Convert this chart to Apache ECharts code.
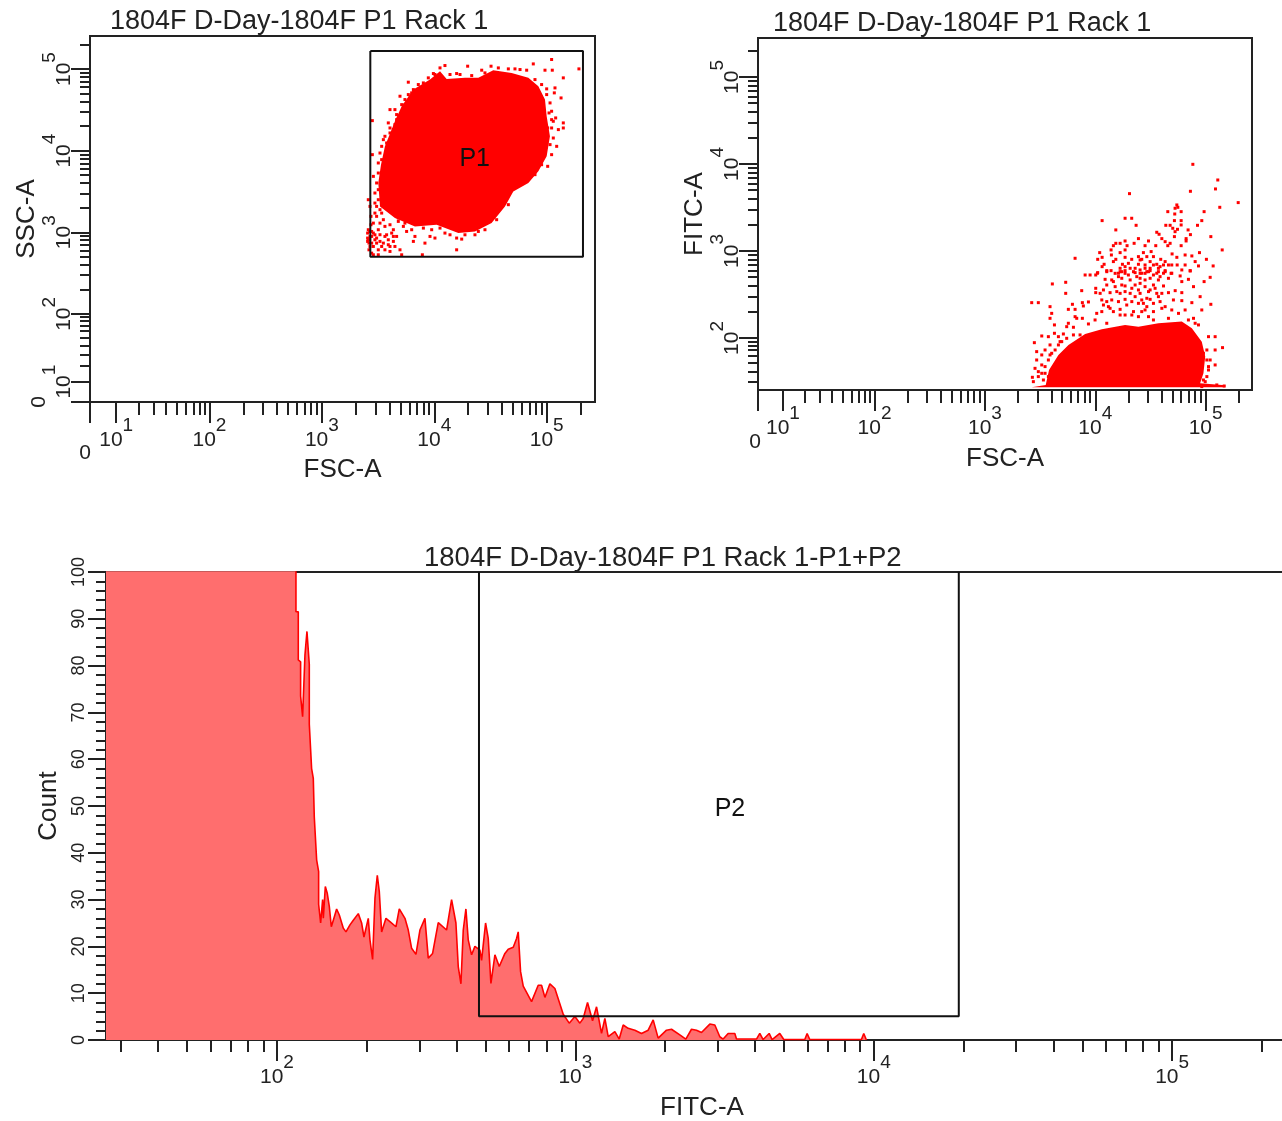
<!DOCTYPE html>
<html><head><meta charset="utf-8">
<style>html,body{margin:0;padding:0;background:#fff}#c{width:1282px;height:1121px}</style>
<script src="https://cdn.jsdelivr.net/npm/echarts@6/dist/echarts.min.js"></script>
</head><body><div id="c"></div>
<script>
const titleTop = "1804F D-Day-1804F P1 Rack 1";
const titleHist = "1804F D-Day-1804F P1 Rack 1-P1+P2";

// Display scale of the two dot plots: log above 100, compressed below (values -> axis units)
const lowValues = [0, 10, 20, 30, 40, 50, 60, 70, 80, 90, 100];
const lowUnits = [0.93, 1.17, 1.37, 1.5, 1.61, 1.71, 1.79, 1.86, 1.91, 1.96, 2];

// P1 dot plot (axis units = log10 display). Solid population outline and stray events
const p1OutlineFsc = [3.962,4.051,4.110,4.273,4.392,4.525,4.688,4.837,4.926,4.985,5.000,5.029,5.000,4.926,4.837,4.703,4.629,4.510,4.362,4.214,4.021,3.828,3.650,3.517,3.502,3.526,3.561,3.650,3.710,3.814];
const p1OutlineSsc = [4.871,4.974,4.879,4.892,4.892,4.986,4.953,4.892,4.789,4.626,4.421,4.176,3.931,3.747,3.603,3.501,3.317,3.113,3.010,2.990,3.092,3.072,3.174,3.317,3.603,3.828,4.053,4.360,4.544,4.748];
const p1Stray = [[4.095,5.043],[4.297,5.035],[4.505,5.035],[4.881,5.063],[5.044,5.117],[5.287,5.002],[4.985,4.986],[5.050,4.986],[5.148,4.892],[4.659,5.002],[4.763,4.994],[4.199,4.945],[4.422,4.986],[3.769,4.839],[3.992,4.945],[5.074,4.769],[5.128,4.646],[5.000,4.757],[5.068,4.708],[4.941,4.544],[5.044,4.483],[5.080,4.401],[5.148,4.340],[5.148,4.278],[5.104,4.258],[5.059,4.360],[4.911,4.393],[5.044,4.278],[5.089,4.053],[5.044,3.951],[5.009,3.808],[4.941,4.196],[3.449,4.368],[3.695,4.667],[3.739,4.626],[3.784,4.646],[3.606,4.503],[3.650,4.503],[3.710,4.564],[3.591,4.340],[3.680,4.401],[3.754,4.462],[3.636,4.258],[3.606,4.217],[3.547,4.135],[3.576,4.094],[3.695,4.115],[3.695,3.992],[3.636,4.012],[3.561,3.930],[3.449,3.951],[3.502,3.849],[3.547,3.767],[3.458,3.685],[3.591,3.706],[3.502,3.522],[3.591,3.563],[3.532,3.440],[3.413,3.399],[3.472,3.358],[3.413,3.031],[3.428,2.949],[3.419,2.867],[3.458,2.990],[3.472,2.908],[3.458,2.826],[3.502,2.785],[3.443,2.744],[3.547,2.867],[3.591,2.908],[3.636,2.888],[3.665,2.949],[3.561,2.785],[3.606,2.765],[3.695,2.785],[3.517,2.970],[3.561,3.072],[3.487,3.195],[3.517,3.277],[3.547,3.154],[3.606,3.092],[3.680,3.133],[3.725,3.072],[3.754,3.010],[3.828,2.949],[3.917,2.867],[3.814,2.888],[3.710,2.724],[3.894,2.724],[4.199,2.785],[3.962,2.949],[4.006,2.929],[4.095,2.990],[4.199,2.929],[4.244,2.916],[4.392,3.010],[3.458,2.724],[3.502,2.724],[3.428,3.317],[3.437,3.195],[3.437,3.092],
[3.561,4.176],[3.532,4.053],[3.517,3.971],[3.532,3.890],[3.502,3.726],[3.487,3.604],[3.472,3.481],[3.502,3.399],[3.487,3.317],[3.532,3.235],[3.472,3.235],[3.517,3.112],[3.458,3.112],[3.443,3.010],[3.502,3.031],[3.561,2.949],[3.532,2.826],[3.621,2.990],[3.636,3.031],[3.650,2.826],[3.487,2.867],[3.428,2.826],[3.419,2.785],[3.413,2.908],[3.606,4.278],[3.650,4.319],[3.665,4.380],[3.710,4.462],[3.665,4.442],[3.769,4.687],[3.739,4.564],[3.814,4.748],[3.799,4.708],[3.858,4.810],[3.903,4.830],[3.947,4.892],[4.006,4.933],[4.051,5.014],[4.140,4.933],[4.229,4.933],[4.333,4.920],[4.451,4.953],[4.570,5.014],[4.718,5.002],[4.822,4.986],[4.896,4.871],[4.955,4.810],[5.000,4.687],[5.030,4.585],[5.021,4.462],[5.044,4.380],[5.009,4.278],[5.059,4.155],[5.030,4.074],[4.955,3.828],[4.896,3.706],[3.739,3.112],[3.680,3.174],[3.799,3.031],[3.903,3.051],[3.977,3.031],[4.051,3.051],[4.140,2.969],[4.273,2.969],[4.362,2.969],[4.451,3.031],[4.555,3.154],[4.659,3.338],
[3.407,2.990],[3.407,2.929],[3.407,2.888],[3.425,3.010],[3.425,2.908],[3.443,2.949],[3.443,2.867],[3.472,2.969],[3.487,2.929],[3.517,2.888],[3.591,2.847],[3.636,2.949],[3.576,2.969],[3.606,2.826]];
const p1GateFsc = [3.431,5.323,5.323,3.431,3.431];
const p1GateSsc = [5.221,5.221,2.699,2.699,5.221];

// FITC dot plot
const fitcDomeFsc = [3.424,3.551,3.581,3.666,3.757,3.908,4.059,4.270,4.391,4.572,4.784,4.875,4.965,4.996,4.980,4.950,5.177,5.177];
const fitcDomeFitc = [1.433,1.460,1.632,1.805,1.920,2.046,2.100,2.150,2.130,2.169,2.188,2.111,1.958,1.786,1.594,1.479,1.456,1.433];
const fitcStray = [[4.884,3.996],[5.110,3.816],[4.862,3.686],[5.089,3.713],[4.310,3.659],[5.295,3.556],[5.128,3.502],[4.739,3.529],[4.723,3.491],[4.748,3.502],[4.657,3.452],[4.778,3.452],[4.986,3.452],[4.720,3.425],[4.062,3.349],[4.270,3.376],[4.330,3.376],[4.370,3.295],[4.717,3.349],[4.778,3.349],[4.778,3.299],[4.965,3.349],[4.926,3.295],[4.639,3.295],[4.678,3.295],[4.186,3.242],[4.702,3.261],[4.745,3.249],[4.723,3.222],[4.841,3.242],[4.557,3.215],[4.578,3.192],[4.862,3.188],[4.717,3.165],[5.047,3.165],[4.391,3.142],[4.603,3.142],[4.823,3.142],[4.823,3.115],[4.482,3.115],[4.270,3.115],[4.186,3.088],[4.225,3.088],[4.352,3.088],[4.633,3.107],[4.678,3.088],[4.778,3.061],[4.657,3.061],[4.164,3.061],[4.288,3.061],[4.451,3.061],[4.548,3.061],[4.143,3.012],[4.270,3.012],[5.150,3.012],[4.040,2.981],[4.225,2.981],[4.436,2.981],[4.506,2.993],[4.696,2.966],[4.944,2.981],[3.817,2.916],[4.062,2.927],[4.146,2.954],[4.022,2.904],[4.186,2.904],[4.270,2.927],[4.330,2.904],[4.391,2.935],[4.467,2.935],[4.527,2.935],[4.593,2.904],[4.739,2.927],[4.814,2.954],[4.875,2.943],[5.007,2.904],[4.164,2.878],[4.421,2.904],[4.497,2.878],[4.633,2.878],[4.905,2.878],[4.080,2.847],[4.246,2.847],[4.391,2.847],[4.557,2.847],[4.693,2.839],[4.742,2.839],[4.814,2.839],[4.935,2.828],[5.068,2.828],[4.062,2.820],[4.225,2.801],[4.316,2.801],[4.451,2.801],[4.587,2.820],[4.784,2.782],[4.104,2.774],[4.143,2.774],[4.270,2.774],[4.361,2.751],[4.497,2.774],[4.633,2.774],[4.860,2.774],[4.019,2.744],[3.908,2.724],[3.953,2.724],[4.210,2.744],[4.421,2.744],[4.557,2.744],[4.693,2.744],
[4.004,2.724],[4.022,2.751],[4.104,2.762],[4.180,2.743],[4.225,2.762],[4.270,2.743],[4.346,2.762],[4.406,2.743],[4.482,2.762],[4.633,2.762],[4.687,2.743],[4.769,2.713],[4.860,2.770],[4.844,2.674],[5.041,2.697],[4.986,2.648],[3.611,2.621],[3.732,2.640],[4.089,2.674],[4.164,2.648],[4.240,2.686],[4.316,2.667],[4.406,2.686],[4.497,2.686],[4.572,2.667],[4.663,2.686],[4.784,2.648],[4.890,2.590],[3.732,2.513],[3.877,2.544],[4.004,2.571],[4.004,2.521],[4.104,2.609],[4.180,2.590],[4.270,2.598],[4.361,2.609],[4.451,2.590],[4.527,2.609],[4.618,2.598],[4.724,2.544],[4.784,2.521],[4.950,2.475],[3.424,2.406],[3.484,2.406],[3.590,2.360],[3.883,2.406],[3.938,2.414],[4.044,2.513],[4.134,2.521],[4.225,2.513],[4.316,2.513],[4.406,2.513],[4.482,2.533],[4.557,2.513],[4.663,2.521],[3.892,2.368],[3.756,2.329],[3.817,2.329],[3.793,2.387],[4.059,2.437],[4.149,2.437],[4.270,2.444],[4.331,2.418],[4.421,2.437],[4.497,2.444],[4.587,2.418],[4.708,2.437],[4.784,2.429],[4.875,2.406],[5.047,2.387],[3.605,2.283],[3.590,2.226],[3.817,2.245],[3.832,2.226],[3.883,2.226],[4.013,2.283],[4.059,2.303],[4.134,2.341],[4.225,2.329],[4.346,2.303],[4.451,2.322],[4.603,2.341],[4.814,2.322],[4.965,2.322],[3.630,2.150],[3.756,2.169],[3.741,2.130],[3.802,2.123],[3.938,2.161],[3.998,2.207],[4.104,2.169],[4.225,2.264],[4.331,2.264],[4.482,2.245],[4.663,2.226],[4.754,2.283],[4.890,2.226],[3.630,2.054],[3.711,2.046],[3.666,2.015],[3.575,2.015],[3.515,2.023],[3.448,1.946],[3.590,1.920],[3.681,1.958],[4.935,2.150],[5.026,2.015],[5.086,2.015],[5.153,1.889],[3.469,1.843],[3.469,1.747],[3.515,1.805],[3.545,1.862],[3.590,1.805],[5.086,1.862],[5.011,1.862],[5.041,1.747],[5.086,1.690],[3.515,1.690],[3.454,1.651],[3.430,1.548],[3.484,1.613],[5.026,1.632],[5.011,1.556],[3.545,1.594],[3.439,1.498],[4.980,1.517],[5.101,1.460],[5.168,1.448],
[4.406,2.628],[4.451,2.667],[4.497,2.552],[4.542,2.571],[4.467,2.456],[4.527,2.398],[4.391,2.398],[4.285,2.379],[4.210,2.418],[4.104,2.418],[4.074,2.552],[4.195,2.533],[4.270,2.533],[4.361,2.475],[4.436,2.398],[4.467,2.360],[4.527,2.303],[4.572,2.475],[4.603,2.513],[4.391,2.552],[4.331,2.571],[4.240,2.609],[4.149,2.667],[4.210,2.705],[4.300,2.724],[4.376,2.705],[4.451,2.743],[4.527,2.724],[4.587,2.705],[4.421,2.303],[4.391,2.245],[4.527,2.207],[4.633,2.360],[4.693,2.322],[4.119,2.360],[4.164,2.303],[4.074,2.379],[4.270,2.264],
[4.406,2.897],[4.451,2.839],[4.527,2.839],[4.572,2.801],[4.618,2.839],[4.270,2.820],[4.300,2.858],[4.361,2.801],[4.497,2.801],[4.467,2.762],[4.406,2.782],[4.240,2.762],[4.572,2.762],[4.618,2.744],[4.663,2.839],
[3.530,1.517],[3.545,1.671],[3.575,1.747],[3.605,1.824],[3.636,1.862],[3.666,1.920],[3.696,1.958],[3.741,1.996],[3.802,2.035],[3.862,2.035],[3.484,1.556],[3.515,1.594],[3.575,1.556],[4.950,1.900],[4.980,1.824],[5.011,1.747],[5.026,1.671],[4.996,1.498],[4.965,1.441],[4.905,2.169],[4.844,2.207]];

// Histogram, log10(FITC-A) and Count (first points are off scale above 100)
const histLogFitc = [1.427,2.0636,2.0636,2.0714,2.0714,2.0792,2.0792,2.0859,2.0859,2.0938,2.1005,2.1083,2.1083,2.1161,2.1217,2.1250,2.1329,2.1396,2.1396,2.1463,2.1530,2.1553,2.1620,2.1687,2.1754,2.1821,2.1888,2.1999,2.2089,2.2223,2.2312,2.2446,2.2558,2.2725,2.2837,2.2915,2.3060,2.3116,2.3205,2.3284,2.3362,2.3429,2.3507,2.3652,2.3786,2.3987,2.4099,2.4289,2.4400,2.4512,2.4657,2.4791,2.4959,2.5070,2.5215,2.5405,2.5684,2.5852,2.5997,2.6075,2.6165,2.6243,2.6332,2.6410,2.6522,2.6634,2.6801,2.6857,2.6991,2.7080,2.7170,2.7304,2.7449,2.7639,2.7750,2.7918,2.8030,2.8085,2.8164,2.8253,2.8532,2.8755,2.8867,2.8979,2.9146,2.9314,2.9593,2.9794,2.9984,3.0151,3.0263,3.0408,3.0576,3.0710,3.0877,3.0989,3.1101,3.1156,3.1324,3.1469,3.1603,3.1770,3.1994,3.2217,3.2440,3.2608,3.2775,3.3054,3.3222,3.3501,3.3702,3.3892,3.4059,3.4227,3.4506,3.4674,3.4841,3.4953,3.5120,3.5344,3.5400,3.6070,3.6181,3.6293,3.6494,3.6594,3.6851,3.6985,3.7689,3.7767,3.7856,3.9587,3.9665,3.9754];
const histCount = [130,130,91.5,91.5,81.2,80.8,73.5,73.5,69.1,82.3,87.3,80.3,67.5,58,55.9,47.7,38.5,36,29,25,30,26,32.8,31.3,28.5,24.2,25.6,28,26.7,23.9,23.1,24.6,25.6,27,25,22,26,21.4,17.2,30.3,35.2,31.7,23.1,26,25.3,24.2,28,26,23.5,19.6,18.3,23.5,26,17.5,18.5,25.1,23.5,30,25,15.7,12,23.5,28,21.4,18.2,20,19.2,17,25,21.7,12.1,18.2,15.7,18.5,19.4,19.8,21.7,23.1,14.6,11.5,8.2,11.7,11.7,9.1,12,11,5.5,3.6,5,3.6,4.6,8,4.1,7.1,1.4,4.6,0.7,0.4,1.8,0.2,3.2,2.5,2.1,1.4,2.1,4.3,0.4,2.1,2.3,1.1,0.2,2.3,2.1,1.6,3.4,3.2,0.7,0.2,1.4,1.4,0.2,0.2,1.4,0.1,1.4,0.1,1.4,0.1,0.1,1.4,0.1,0.1,1.4,0];
const p2GateLog = [2.677,2.677,4.285,4.285];
const p2GateCount = [100,5.1,5.1,100];
const countMajor = [0,10,20,30,40,50,60,70,80,90,100];
const countMinor = [2,4,6,8,12,14,16,18,22,24,26,28,32,34,36,38,42,44,46,48,52,54,56,58,62,64,66,68,72,74,76,78,82,84,86,88,92,94,96,98];
const logMajor = [1,2,3,4,5];
const minorMultipliers = [2,3,4,5,6,7,8,9];

const FONT = '"Liberation Sans", Arial, sans-serif';
const INK = '#222';
const RED = '#ff0000';

function toUnits(v){
  if (v >= 100) return Math.log10(v);
  for (let i = 1; i < lowValues.length; i++) {
    if (v <= lowValues[i]) {
      const t = (v - lowValues[i-1]) / (lowValues[i] - lowValues[i-1]);
      return lowUnits[i-1] + t * (lowUnits[i] - lowUnits[i-1]);
    }
  }
}
function minorsFor(decades){
  const out = [];
  decades.forEach(d => minorMultipliers.forEach(m => out.push(m * Math.pow(10, d))));
  return out;
}
const powRich = {
  a:{fontFamily:FONT,fontSize:21,color:INK,lineHeight:24},
  b:{fontFamily:FONT,fontSize:19,color:INK,lineHeight:24,padding:[0,0,28,0]}
};
const base = (dim, grid, min, max) => ({
  type:'value', gridIndex:grid, min, max, position: dim==='x'?'bottom':'left',
  splitLine:{show:false}, silent:true,
  axisLine:{show:true,onZero:false,lineStyle:{color:INK,width:2}}
});
// major ticks + labels, short ticks, and optional separately placed 0 label
function bioAxes(dim, grid, min, max, opts){
  const maj = logMajor.map(d => toUnits(Math.pow(10,d))).filter(u => u>=min);
  const minr = minorsFor([1,2,3,4]).concat([2e5]).map(toUnits).filter(u => u>=min && u<=max);
  const out = [];
  out.push(Object.assign(base(dim,grid,min,max),{
    name:opts.name, nameLocation:'middle', nameGap:opts.nameGap, nameMoveOverlap:dim!=='x',
    nameTextStyle:{fontFamily:FONT,fontSize:26,color:INK},
    axisTick:{show:true,customValues:maj.concat(opts.zeroTick?[min]:[]),length:opts.majorLen,lineStyle:{color:INK,width:2}},
    axisLabel:{show:true,customValues:maj,margin:opts.labelMargin,rotate:dim==='y'?90:0,hideOverlap:false,
      formatter:v=>`{a|10}{b|${Math.round(v)}}`,rich:powRich}
  }));
  out.push(Object.assign(base(dim,grid,min,max),{
    axisTick:{show:true,customValues:minr,length:opts.minorLen,lineStyle:{color:INK,width:2}},
    axisLabel:{show:false}
  }));
  if (opts.zeroLabel) {
    out.push(Object.assign(base(dim,grid,min,max),{
      axisLine:{show:false},axisTick:{show:false},
      axisLabel:{show:true,customValues:[min],margin:opts.zeroLabel,rotate:dim==='y'?90:0,hideOverlap:false,
        formatter:()=>'0',color:INK,fontFamily:FONT,fontSize:21,padding:opts.zeroPad||0}
    }));
  }
  return out;
}
const xAxes = [
  ...bioAxes('x',0,0.937,5.43,{name:'FSC-A',nameGap:55,majorLen:21,minorLen:13,labelMargin:26,zeroTick:true,zeroLabel:41,zeroPad:[0,10,0,0]}),
  ...bioAxes('x',1,0.944,5.42,{name:'FSC-A',nameGap:56,majorLen:21,minorLen:13,labelMargin:26,zeroTick:true,zeroLabel:42,zeroPad:[0,6,0,0]}),
  { type:'log', logBase:10, gridIndex:2, min:Math.pow(10,1.427), max:Math.pow(10,5.395), position:'bottom', silent:true,
    name:'FITC-A', nameLocation:'middle', nameGap:55, nameMoveOverlap:false,
    nameTextStyle:{fontFamily:FONT,fontSize:26,color:INK,padding:[0,0,0,8]},
    splitLine:{show:false},
    axisLine:{show:true,onZero:false,lineStyle:{color:INK,width:2}},
    axisTick:{show:true,customValues:[2,3,4,5].map(d=>Math.pow(10,d)),length:21,lineStyle:{color:INK,width:2}},
    axisLabel:{show:true,customValues:[2,3,4,5].map(d=>Math.pow(10,d)),margin:25,hideOverlap:false,
      formatter:v=>`{a|10}{b|${Math.round(Math.log10(v))}}`,rich:powRich}
  },
  { type:'log', logBase:10, gridIndex:2, min:Math.pow(10,1.427), max:Math.pow(10,5.395), position:'bottom', silent:true,
    splitLine:{show:false},
    axisLine:{show:true,onZero:false,lineStyle:{color:INK,width:2}},
    axisTick:{show:true,customValues:minorsFor([2,3,4]).concat([30,40,50,60,70,80,90,2e5]),length:12,lineStyle:{color:INK,width:2}},
    axisLabel:{show:false}
  }
];
const yAxes = [
  ...bioAxes('y',0,0.92,5.405,{name:'SSC-A',nameGap:50,majorLen:19,minorLen:10,labelMargin:14,zeroTick:true,zeroLabel:40}),
  ...bioAxes('y',1,1.402,5.448,{name:'FITC-A',nameGap:48,majorLen:19,minorLen:10,labelMargin:14,zeroTick:false}),
  Object.assign(base('y',2,0,100),{
    name:'Count', nameLocation:'middle', nameGap:39,
    nameTextStyle:{fontFamily:FONT,fontSize:26,color:INK},
    axisTick:{show:true,customValues:countMajor,length:18,lineStyle:{color:INK,width:2}},
    axisLabel:{show:true,customValues:countMajor,margin:18,rotate:90,hideOverlap:false,color:INK,fontFamily:FONT,fontSize:18}
  }),
  Object.assign(base('y',2,0,100),{
    axisTick:{show:true,customValues:countMinor,length:10,lineStyle:{color:INK,width:2}},
    axisLabel:{show:false}
  })
];
const zip = (a,b) => a.map((v,i)=>[v,b[i]]);
function blob(xi, yi, pts){
  return {type:'custom', xAxisIndex:xi, yAxisIndex:yi, silent:true, z:2,
    data:pts, encode:{x:0,y:1},
    renderItem(params, api){
      if (params.dataIndex !== 0) return null;
      return {type:'polygon',shape:{points:pts.map(p=>api.coord(p))},style:{fill:RED}};
    }};
}
const dots = (xi, yi, data) => ({type:'scatter',xAxisIndex:xi,yAxisIndex:yi,silent:true,z:2,
  symbol:'rect',symbolSize:3,itemStyle:{color:RED,opacity:1},data});
const gateLine = (xi, yi, data) => ({type:'line',xAxisIndex:xi,yAxisIndex:yi,silent:true,z:4,
  showSymbol:false,symbol:'none',lineStyle:{color:'#111',width:2},data});
const textMark = (xi, yi, pt, text) => ({type:'scatter',xAxisIndex:xi,yAxisIndex:yi,silent:true,z:6,
  symbolSize:0,itemStyle:{opacity:1},data:[pt],label:{show:true,position:'inside',formatter:text,fontFamily:FONT,fontSize:25,color:'#111',opacity:1}});
const titleStyle = {fontFamily:FONT,fontSize:27,fontWeight:'normal',color:INK};

const chart = echarts.init(document.getElementById('c'),null,{renderer:'canvas'});
chart.setOption({
  animation:false,
  backgroundColor:'#fff',
  title:[
    {text:titleTop,left:110,top:8,textStyle:titleStyle,padding:0},
    {text:titleTop,left:773,top:10,textStyle:titleStyle,padding:0},
    {text:titleHist,left:424,top:544,textStyle:Object.assign({},titleStyle,{fontSize:27.5}),padding:0}
  ],
  grid:[
    {left:90,top:36,width:505,height:366,show:true,borderColor:INK,borderWidth:2,backgroundColor:'#fff',outerBoundsMode:'none'},
    {left:758,top:38,width:494,height:352,show:true,borderColor:INK,borderWidth:2,backgroundColor:'#fff',outerBoundsMode:'none'},
    {left:106,top:572,width:1184,height:468,show:true,borderColor:INK,borderWidth:2,backgroundColor:'#fff',outerBoundsMode:'none'}
  ],
  xAxis:xAxes,
  yAxis:yAxes,
  series:[
    blob(0,0,zip(p1OutlineFsc,p1OutlineSsc)),
    dots(0,0,p1Stray),
    gateLine(0,0,zip(p1GateFsc,p1GateSsc)),
    textMark(0,0,[4.36,3.90],'P1'),
    blob(3,3,zip(fitcDomeFsc,fitcDomeFitc)),
    dots(3,3,fitcStray),
    {type:'line',xAxisIndex:6,yAxisIndex:5,silent:true,z:2,showSymbol:false,symbol:'none',clip:true,
      data:zip(histLogFitc.map(d=>Math.pow(10,d)),histCount),
      lineStyle:{color:RED,width:1.6},areaStyle:{color:'#ff6e6e',opacity:1,origin:'start'}},
    gateLine(6,5,zip(p2GateLog.map(d=>Math.pow(10,d)),p2GateCount)),
    textMark(6,5,[Math.pow(10,3.518),49.3],'P2')
  ]
});
</script></body></html>
